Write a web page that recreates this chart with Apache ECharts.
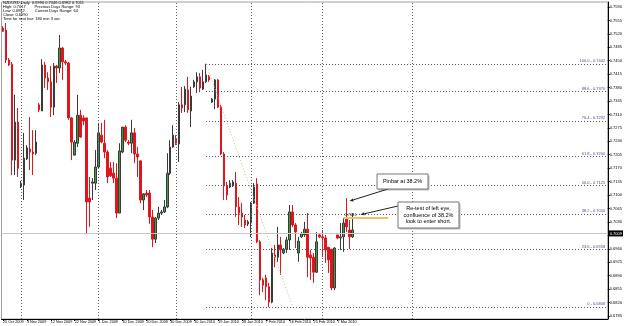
<!DOCTYPE html>
<html><head><meta charset="utf-8">
<script src="https://cdn.jsdelivr.net/npm/echarts@6/dist/echarts.min.js"></script>
<style>html,body{margin:0;padding:0;background:#fff}#c{width:625px;height:326px}</style>
</head><body><div id="c"></div>
<script>
const dates = ("25 Oct 2009|26 Oct 2009|27 Oct 2009|28 Oct 2009|29 Oct 2009|30 Oct 2009|" +
"1 Nov 2009|2 Nov 2009|3 Nov 2009|4 Nov 2009|5 Nov 2009|6 Nov 2009|8 Nov 2009|9 Nov 2009|10 Nov 2009|11 Nov 2009|12 Nov 2009|13 Nov 2009|" +
"15 Nov 2009|16 Nov 2009|17 Nov 2009|18 Nov 2009|19 Nov 2009|20 Nov 2009|22 Nov 2009|23 Nov 2009|24 Nov 2009|25 Nov 2009|26 Nov 2009|27 Nov 2009|29 Nov 2009|30 Nov 2009|" +
"1 Dec 2009|2 Dec 2009|3 Dec 2009|4 Dec 2009|6 Dec 2009|7 Dec 2009|8 Dec 2009|9 Dec 2009|10 Dec 2009|11 Dec 2009|13 Dec 2009|14 Dec 2009|15 Dec 2009|16 Dec 2009|17 Dec 2009|18 Dec 2009|" +
"20 Dec 2009|21 Dec 2009|22 Dec 2009|23 Dec 2009|24 Dec 2009|27 Dec 2009|28 Dec 2009|29 Dec 2009|30 Dec 2009|31 Dec 2009|" +
"3 Jan 2010|4 Jan 2010|5 Jan 2010|6 Jan 2010|7 Jan 2010|8 Jan 2010|10 Jan 2010|11 Jan 2010|12 Jan 2010|13 Jan 2010|14 Jan 2010|15 Jan 2010|" +
"17 Jan 2010|18 Jan 2010|19 Jan 2010|20 Jan 2010|21 Jan 2010|22 Jan 2010|24 Jan 2010|25 Jan 2010|26 Jan 2010|27 Jan 2010|28 Jan 2010|29 Jan 2010|31 Jan 2010|" +
"1 Feb 2010|2 Feb 2010|3 Feb 2010|4 Feb 2010|5 Feb 2010|7 Feb 2010|8 Feb 2010|9 Feb 2010|10 Feb 2010|11 Feb 2010|12 Feb 2010|" +
"14 Feb 2010|15 Feb 2010|16 Feb 2010|17 Feb 2010|18 Feb 2010|19 Feb 2010|21 Feb 2010|22 Feb 2010|23 Feb 2010|24 Feb 2010|25 Feb 2010|26 Feb 2010|28 Feb 2010|" +
"1 Mar 2010|2 Mar 2010|3 Mar 2010|4 Mar 2010|5 Mar 2010|7 Mar 2010|8 Mar 2010|9 Mar 2010|10 Mar 2010|11 Mar 2010|12 Mar 2010").split("|");

const opens = [0.7535,0.7530,0.7452,0.7441,0.7191,0.7290,0.7121,0.7126,0.7194,0.7220,
0.7212,0.7209,0.7335,0.7319,0.7439,0.7405,0.7395,0.7329,0.7436,0.7431,
0.7483,0.7447,0.7444,0.7301,0.7204,0.7235,0.7308,0.7301,0.7301,0.7092,
0.7131,0.7131,0.7173,0.7256,0.7235,0.7212,0.7170,0.7157,0.7144,0.7053,
0.7212,0.7277,0.7238,0.7235,0.7262,0.7207,0.7189,0.7087,0.7105,0.7105,
0.7043,0.6985,0.7040,0.7053,0.7056,0.7069,0.7157,0.7225,0.7246,0.7233,
0.7335,0.7335,0.7374,0.7319,0.7382,0.7395,0.7408,0.7376,0.7395,0.7408,
0.7342,0.7350,0.7400,0.7329,0.7207,0.7124,0.7121,0.7124,0.7131,0.7069,
0.7053,0.7035,0.7025,0.7027,0.7079,0.7129,0.6978,0.6879,0.6884,0.6861,
0.6821,0.6944,0.6938,0.6970,0.6949,0.6959,0.6983,0.7056,0.7022,0.6949,
0.6991,0.6996,0.7011,0.6944,0.6938,0.6899,0.6996,0.6991,0.6988,0.6964,
0.6959,0.6858,0.6996,0.6988,0.6991,0.7040,0.7009,0.6991];
const closes = [0.7527,0.7452,0.7439,0.7191,0.7290,0.7170,0.7131,0.7196,0.7223,0.7212,
0.7207,0.7238,0.7322,0.7439,0.7405,0.7395,0.7329,0.7436,0.7431,0.7483,
0.7447,0.7444,0.7301,0.7238,0.7238,0.7308,0.7251,0.7293,0.7082,0.7082,
0.7134,0.7173,0.7262,0.7238,0.7212,0.7147,0.7150,0.7144,0.7053,0.7215,
0.7277,0.7243,0.7235,0.7262,0.7207,0.7199,0.7087,0.7103,0.7100,0.7043,
0.6985,0.7040,0.7053,0.7056,0.7069,0.7157,0.7225,0.7256,0.7235,0.7335,
0.7327,0.7376,0.7322,0.7358,0.7395,0.7408,0.7379,0.7395,0.7413,0.7400,
0.7350,0.7400,0.7329,0.7207,0.7124,0.7100,0.7131,0.7134,0.7069,0.7053,
0.7043,0.7022,0.7030,0.7079,0.7121,0.6978,0.6879,0.6865,0.6861,0.6821,
0.6949,0.6938,0.6970,0.6957,0.6959,0.6983,0.7056,0.7022,0.7004,0.6980,
0.6999,0.7011,0.6938,0.6936,0.6899,0.6978,0.6991,0.6988,0.6957,0.6931,
0.6858,0.6962,0.6988,0.6991,0.7027,0.7017,0.6991,0.7009];
const lows = [0.7525,0.7444,0.7436,0.7152,0.7152,0.7147,0.7118,0.7087,0.7191,0.7165,
0.7152,0.7204,0.7316,0.7319,0.7379,0.7374,0.7303,0.7308,0.7392,0.7418,
0.7400,0.7439,0.7296,0.7191,0.7204,0.7225,0.7249,0.7282,0.7001,0.7017,
0.7087,0.7113,0.7170,0.7235,0.7196,0.7131,0.7147,0.7131,0.7040,0.7053,
0.7209,0.7238,0.7230,0.7209,0.7183,0.7147,0.7079,0.7061,0.7095,0.7025,
0.6964,0.6975,0.7035,0.7048,0.7053,0.7066,0.7152,0.7223,0.7230,0.7186,
0.7314,0.7316,0.7314,0.7277,0.7379,0.7366,0.7368,0.7374,0.7392,0.7395,
0.7340,0.7324,0.7327,0.7204,0.7087,0.7087,0.7118,0.7121,0.7043,0.7022,
0.7017,0.7014,0.7019,0.6991,0.7077,0.6975,0.6839,0.6847,0.6826,0.6808,
0.6818,0.6912,0.6926,0.6892,0.6946,0.6949,0.6957,0.7017,0.6962,0.6926,
0.6988,0.6991,0.6886,0.6879,0.6871,0.6897,0.6988,0.6938,0.6923,0.6897,
0.6852,0.6852,0.6985,0.6957,0.6952,0.7004,0.6959,0.6988];
const highs = [0.7540,0.7548,0.7457,0.7447,0.7361,0.7327,0.7137,0.7262,0.7230,0.7303,
0.7269,0.7269,0.7340,0.7454,0.7447,0.7420,0.7436,0.7444,0.7439,0.7517,
0.7486,0.7452,0.7447,0.7303,0.7243,0.7361,0.7322,0.7308,0.7301,0.7147,
0.7144,0.7217,0.7288,0.7288,0.7296,0.7217,0.7186,0.7186,0.7183,0.7235,
0.7277,0.7282,0.7243,0.7296,0.7275,0.7225,0.7191,0.7105,0.7113,0.7113,
0.7061,0.7043,0.7069,0.7061,0.7087,0.7209,0.7243,0.7282,0.7256,0.7342,
0.7382,0.7384,0.7408,0.7382,0.7400,0.7420,0.7418,0.7426,0.7442,0.7413,
0.7353,0.7402,0.7402,0.7335,0.7212,0.7134,0.7139,0.7139,0.7160,0.7095,
0.7079,0.7048,0.7035,0.7082,0.7131,0.7144,0.6983,0.6884,0.6892,0.6871,
0.6962,0.6970,0.7017,0.6991,0.6962,0.6991,0.7074,0.7074,0.7027,0.6991,
0.7004,0.7030,0.7053,0.6957,0.6949,0.7004,0.7001,0.7009,0.6996,0.6964,
0.6959,0.6964,0.6996,0.7027,0.7040,0.7092,0.7035,0.7053];

const priceTicks = [0.6785,0.6820,0.6855,0.6890,0.6925,0.6960,0.6995,0.7030,0.7065,0.7100,0.7135,0.7170,
0.7205,0.7240,0.7275,0.7310,0.7345,0.7380,0.7415,0.7450,0.7485,0.7520,0.7555,0.7590];
const fibRatios = ["0","23.6","38.2","50.0","61.8","76.4","88.6","100.0"];
const fibPrices = [0.6808,0.6958,0.7050,0.7125,0.7200,0.7292,0.7370,0.7442];
const fibStart = 68, fibEnd = 97;          // bar indexes of the two fib anchors
const monthLines = [6, 32, 58, 83, 107, 137]; // bar indexes of month separators
const futureSlots = 85;                     // empty space to the right (chart shift)
const retestLevel = 0.7041;
const bidPrice = 0.7009;
const headerLines = [
  "NZDUSD,Daily  0.6990 0.7046 0.6982 0.7011",
  "High: 0.7017        Previous Days Range: 93",
  "Low: 0.6982         Current Days Range: 64",
  "Close: 0.6990",
  "Time for next bar: 180 min 3 sec"
];

const cats = dates.concat(new Array(futureSlots).fill(""));
const lastCat = cats.length - 1;
const candles = opens.map((o, i) => [o, closes[i], lows[i], highs[i]]);
const F = "Liberation Sans, Arial, sans-serif";

const markData = [];
monthLines.forEach(ix => markData.push({
  xAxis: ix, label: {show: false},
  lineStyle: {color: "#606060", width: 1, type: [1, 2]}
}));
fibPrices.forEach((p, k) => markData.push([
  {coord: [fibStart, p], label: {show: true, position: "insideEndTop", distance: 1,
     formatter: fibRatios[k] + " - " + p.toFixed(4), color: "#4a4aa0", fontSize: 4, fontFamily: F},
   lineStyle: {color: "#505050", width: 1, type: [1, 2]}},
  {coord: [lastCat, p]}
]));
markData.push([
  {coord: [fibStart, fibPrices[7]], label: {show: false},
   lineStyle: {color: "#d8b88a", width: 1, type: [1, 2]}},
  {coord: [fibEnd, fibPrices[0]]}
]);
markData.push([
  {coord: [114, retestLevel], label: {show: true, position: "insideStartTop", distance: 1,
     formatter: retestLevel.toFixed(4), color: "#333", fontSize: 4, fontFamily: F},
   lineStyle: {color: "#e9c46a", width: 2, type: "solid"}},
  {coord: [129, retestLevel]}
]);
markData.push({
  yAxis: bidPrice,
  lineStyle: {color: "#c8c8c8", width: 1, type: "solid"},
  label: {show: true, position: "end", distance: 1, formatter: bidPrice.toFixed(4),
    backgroundColor: "#000", color: "#fff", fontSize: 4, fontFamily: F, padding: [1, 1]}
});

const chart = echarts.init(document.getElementById("c"), null, {renderer: "canvas"});
chart.setOption({
  animation: false,
  backgroundColor: "#fff",
  grid: {left: 0, right: 15, top: 2, bottom: 7, show: true, borderColor: "#a0a0a0", borderWidth: 1},
  xAxis: {
    type: "category", data: cats, boundaryGap: true,
    axisLine: {lineStyle: {color: "#000", width: 1}},
    axisTick: {show: true, length: 2, alignWithLabel: true, lineStyle: {color: "#000"},
      interval: (i) => i % 8 === 0 && i < dates.length},
    axisLabel: {show: true, fontSize: 3.8, fontFamily: F, color: "#000", margin: 1, align: "left",
      interval: (i) => i % 8 === 0 && i < dates.length},
    splitLine: {show: false}
  },
  yAxis: {
    type: "value", position: "right", min: 0.6777, max: 0.7603, scale: true,
    axisLine: {show: true, lineStyle: {color: "#000", width: 1}},
    axisTick: {show: true, length: 2, customValues: priceTicks, lineStyle: {color: "#000"}},
    axisLabel: {show: true, customValues: priceTicks, formatter: v => v.toFixed(4),
      fontSize: 4, fontFamily: F, color: "#000", margin: 2},
    splitLine: {show: false}
  },
  series: [{
    type: "candlestick", data: candles, barWidth: 2,
    itemStyle: {color: "#3f9c3f", color0: "#e0161c", borderColor: "#3a3a3a", borderColor0: "#e0161c", borderWidth: 1},
    markLine: {silent: true, symbol: "none", animation: false, data: markData}
  }]
});

const pin = chart.convertToPixel({seriesIndex: 0}, [115, highs[115]]);
const lvl = chart.convertToPixel({seriesIndex: 0}, [118, retestLevel]);
function arrow(x1, y1, x2, y2) {
  const a = Math.atan2(y2 - y1, x2 - x1), L = 4, W = 1.6;
  const bx = x2 - L * Math.cos(a), by = y2 - L * Math.sin(a);
  return [
    {type: "line", shape: {x1, y1, x2: bx, y2: by}, style: {stroke: "#222", lineWidth: 1}, z: 100},
    {type: "polygon", shape: {points: [[x2, y2], [bx + W * Math.sin(a), by - W * Math.cos(a)], [bx - W * Math.sin(a), by + W * Math.cos(a)]]},
     style: {fill: "#222"}, z: 100}
  ];
}
const box = (x, y, w, h) => [
  {type: "rect", shape: {x: x + 1.5, y: y + 1.5, width: w, height: h}, style: {fill: "#bdbdbd"}, z: 100},
  {type: "rect", shape: {x, y, width: w, height: h}, style: {fill: "#fff", stroke: "#777", lineWidth: 1}, z: 101}
];
chart.setOption({
  graphic: [
    {type: "text", left: 3, top: 1, z: 100, style: {text: headerLines.join("\n"), font: "4px " + F, lineHeight: 4, fill: "#000"}},
    ...box(377, 174, 51, 15),
    {type: "text", x: 402.5, y: 181.5, z: 102, style: {text: "Pinbar at 38.2%", font: "5.5px " + F, fill: "#000", align: "center", verticalAlign: "middle"}},
    ...box(398, 202, 61, 26),
    {type: "text", x: 428.5, y: 215, z: 102, style: {text: "Re-test of left eye,\nconfluence of 38.2%\nlook to enter short.", font: "5.5px " + F, lineHeight: 6.6, fill: "#000", align: "center", verticalAlign: "middle"}},
    ...arrow(388, 189, pin[0] + 3, pin[1] + 3),
    ...arrow(398, 206, lvl[0] + 5, lvl[1] - 3)
  ]
});
</script></body></html>
